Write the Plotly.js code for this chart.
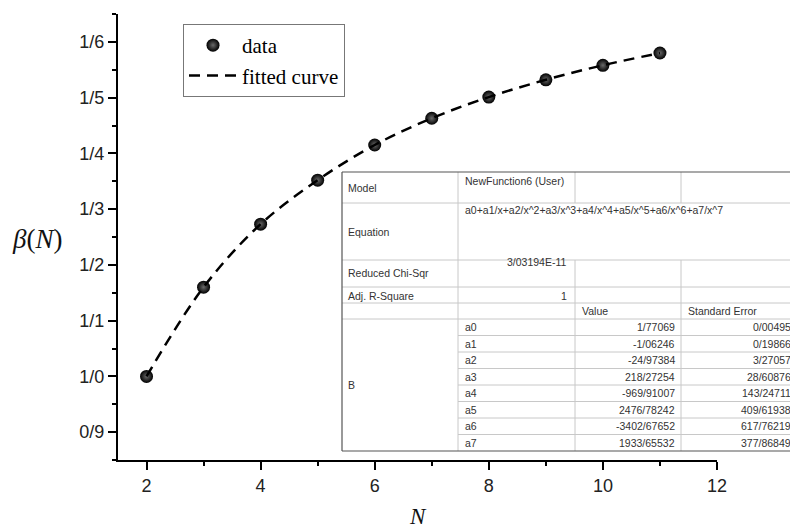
<!DOCTYPE html>
<html>
<head>
<meta charset="utf-8">
<script src="https://cdn.plot.ly/plotly-3.0.1.min.js"></script>
<style>html,body{margin:0;padding:0;background:#fff;}#chart{width:790px;height:530px;}</style>
</head>
<body>
<div id="chart"></div>
<script>
// ---- data ----
const N = [2, 3, 4, 5, 6, 7, 8, 9, 10, 11];
const beta = [1.000, 1.160, 1.273, 1.352, 1.415, 1.463, 1.501, 1.532, 1.558, 1.580];
const yTickVals = [0.9, 1.0, 1.1, 1.2, 1.3, 1.4, 1.5, 1.6];
const yTickText = ['0/9', '1/0', '1/1', '1/2', '1/3', '1/4', '1/5', '1/6'];
const xTickVals = [2, 4, 6, 8, 10, 12];

// fit report table
const modelName = 'NewFunction6 (User)';
const equation = 'a0+a1/x+a2/x^2+a3/x^3+a4/x^4+a5/x^5+a6/x^6+a7/x^7';
const chiSqr = '3/03194E-11';
const adjR2 = '1';
const paramNames = ['a0', 'a1', 'a2', 'a3', 'a4', 'a5', 'a6', 'a7'];
const paramValues = ['1/77069', '-1/06246', '-24/97384', '218/27254', '-969/91007', '2476/78242', '-3402/67652', '1933/65532'];
const paramErrors = ['0/00495', '0/19866', '3/27057', '28/60876', '143/24711', '409/61938', '617/76219', '377/86849'];

// ---- geometry helpers (pixel -> paper) ----
const M = {l: 118, r: 73, t: 14, b: 70};
const W = 790 - M.l - M.r, H = 530 - M.t - M.b;
const px = x => (x - M.l) / W;
const py = y => (530 - M.b - y) / H;

const shapes = [];
const annotations = [];
const tblFont = {family: 'Liberation Sans, Arial, sans-serif', size: 10.5, color: '#333'};
function line(x0, y0, x1, y1, color, w) {
  shapes.push({type: 'line', xref: 'paper', yref: 'paper', x0: px(x0), y0: py(y0), x1: px(x1), y1: py(y1),
    line: {color: color, width: w}, layer: 'above'});
}
function txt(t, x, y, anchor) {
  annotations.push({text: t, xref: 'paper', yref: 'paper', x: px(x), y: py(y), xanchor: anchor || 'left',
    yanchor: 'middle', showarrow: false, font: tblFont});
}

// table frame
const TL = 342, TR = 800, TT = 172, TB = 451;
const C1 = 458, C2 = 575, C3 = 681;
const rModel = 203, rEq = 260, rChi = 287, rAdj = 303, rHead = 319;
const rowH = (TB - rHead) / paramNames.length;
shapes.push({type: 'rect', xref: 'paper', yref: 'paper', x0: px(TL), x1: px(TR), y0: py(TT), y1: py(TB),
  fillcolor: '#fff', line: {width: 0}, layer: 'above'});
const g = '#c8c8c8';
[rModel, rEq, rChi, rAdj, rHead].forEach(y => line(TL, y, TR, y, g, 1));
for (let i = 1; i < paramNames.length; i++) line(C1, rHead + i * rowH, TR, rHead + i * rowH, g, 1);
line(C1, TT, C1, TB, g, 1);
[C2, C3].forEach(x => { line(x, TT, x, rModel, g, 1); line(x, rEq, x, TB, g, 1); });
line(TL, TT, TR, TT, '#555', 1.2);
line(TL, TB, TR, TB, '#555', 1.2);
line(TL, TT, TL, TB, '#555', 1.2);

// table text
txt('Model', 346, (TT + rModel) / 2 + 1);
txt(modelName, 463, 181);
txt('Equation', 346, 232);
txt(equation, 463, 210);
txt('Reduced Chi-Sqr', 346, 273);
txt(chiSqr, 569, 262, 'right');
txt('Adj. R-Square', 346, 296);
txt(adjR2, 569, 296, 'right');
txt('Value', 580, 311);
txt('Standard Error', 686, 311);
txt('B', 346, (rHead + TB) / 2);
paramNames.forEach((n, i) => {
  const yc = rHead + (i + 0.5) * rowH;
  txt(n, 463, yc);
  txt(paramValues[i], 677, yc, 'right');
  txt(paramErrors[i], 793, yc, 'right');
});

// axis titles
annotations.push({text: '<i>β</i>(<i>N</i>)', xref: 'paper', yref: 'paper', x: px(37), y: py(239),
  xanchor: 'center', yanchor: 'middle', showarrow: false,
  font: {family: 'Liberation Serif, Times New Roman, serif', size: 27, color: '#111'}});
annotations.push({text: '<i>N</i>', xref: 'paper', yref: 'paper', x: px(418), y: py(516),
  xanchor: 'center', yanchor: 'middle', showarrow: false,
  font: {family: 'Liberation Serif, Times New Roman, serif', size: 23, color: '#111'}});

const traces = [
  {x: N, y: beta, mode: 'markers', name: 'data', type: 'scatter',
   marker: {size: 13, color: '#000', gradient: {type: 'radial', color: '#6a6a6a'}, line: {width: 0}}},
  {x: N, y: beta, mode: 'lines', name: 'fitted curve', type: 'scatter',
   line: {shape: 'spline', color: '#000', width: 2.5, dash: '11px,7px'}}
];

const axisCommon = {showline: true, linecolor: '#000', linewidth: 2, ticks: 'outside', ticklen: 8, tickwidth: 2,
  tickcolor: '#000', showgrid: false, zeroline: false,
  tickfont: {family: 'Liberation Sans, Arial, sans-serif', size: 18, color: '#222'}};

const layout = {
  width: 790, height: 530, margin: M, paper_bgcolor: '#fff', plot_bgcolor: '#fff',
  showlegend: true,
  legend: {x: px(183), y: py(24), xanchor: 'left', yanchor: 'top', bordercolor: '#777', borderwidth: 1,
    bgcolor: '#fff', itemwidth: 48, font: {family: 'Liberation Serif, Times New Roman, serif', size: 21, color: '#000'}},
  xaxis: Object.assign({}, axisCommon, {range: [1.5, 12], tickmode: 'array', tickvals: xTickVals,
    minor: {dtick: 1, tick0: 1, ticklen: 4, tickwidth: 2, tickcolor: '#000', ticks: 'outside'}}),
  yaxis: Object.assign({}, axisCommon, {range: [0.85, 1.65], tickmode: 'array', tickvals: yTickVals, ticktext: yTickText,
    minor: {dtick: 0.05, tick0: 0.85, ticklen: 4, tickwidth: 2, tickcolor: '#000', ticks: 'outside'}}),
  shapes: shapes, annotations: annotations
};

Plotly.newPlot('chart', traces, layout, {staticPlot: true, displayModeBar: false});
</script>
</body>
</html>
